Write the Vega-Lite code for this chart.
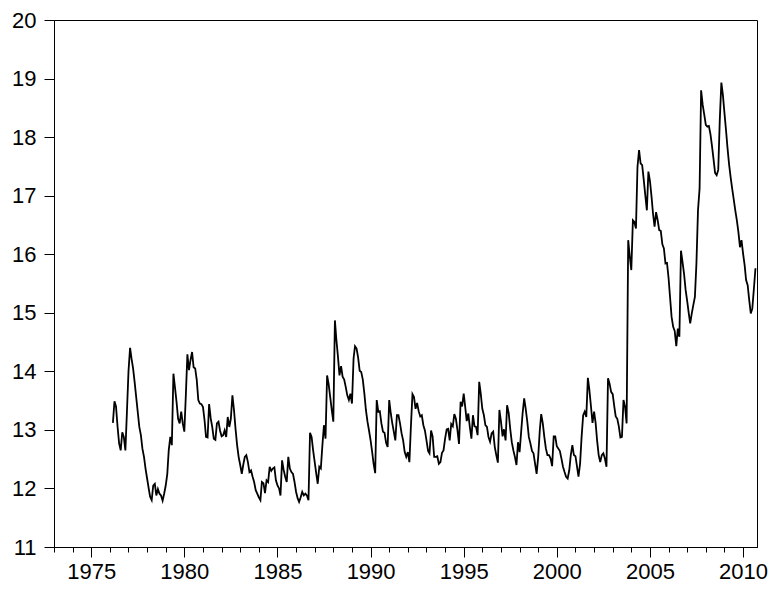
{
  "$schema": "https://vega.github.io/schema/vega-lite/v6.json",
  "width": 703,
  "height": 527,
  "autosize": "none",
  "padding": {"left": 54, "top": 20, "right": 16, "bottom": 44},
  "background": "white",
  "view": {"stroke": "#000", "strokeWidth": 1},
  "data": {
    "values": [
      {"d": "1976-03", "v": 13.12}, {"d": "1976-04", "v": 13.49}, {"d": "1976-05", "v": 13.40}, {"d": "1976-06", "v": 13.05},
      {"d": "1976-07", "v": 12.77}, {"d": "1976-08", "v": 12.65}, {"d": "1976-09", "v": 12.96}, {"d": "1976-10", "v": 12.88},
      {"d": "1976-11", "v": 12.65}, {"d": "1976-12", "v": 13.30}, {"d": "1977-01", "v": 14.00}, {"d": "1977-02", "v": 14.40},
      {"d": "1977-03", "v": 14.22}, {"d": "1977-04", "v": 14.05}, {"d": "1977-05", "v": 13.82}, {"d": "1977-06", "v": 13.56},
      {"d": "1977-07", "v": 13.31}, {"d": "1977-08", "v": 13.05}, {"d": "1977-09", "v": 12.91}, {"d": "1977-10", "v": 12.68},
      {"d": "1977-11", "v": 12.54}, {"d": "1977-12", "v": 12.34}, {"d": "1978-01", "v": 12.17}, {"d": "1978-02", "v": 12.00},
      {"d": "1978-03", "v": 11.86}, {"d": "1978-04", "v": 11.80}, {"d": "1978-05", "v": 12.05}, {"d": "1978-06", "v": 12.08},
      {"d": "1978-07", "v": 11.88}, {"d": "1978-08", "v": 11.99}, {"d": "1978-09", "v": 11.91}, {"d": "1978-10", "v": 11.88},
      {"d": "1978-11", "v": 11.79}, {"d": "1978-12", "v": 11.91}, {"d": "1979-01", "v": 12.05}, {"d": "1979-02", "v": 12.25},
      {"d": "1979-03", "v": 12.65}, {"d": "1979-04", "v": 12.88}, {"d": "1979-05", "v": 12.74}, {"d": "1979-06", "v": 13.96},
      {"d": "1979-07", "v": 13.73}, {"d": "1979-08", "v": 13.48}, {"d": "1979-09", "v": 13.19}, {"d": "1979-10", "v": 13.11},
      {"d": "1979-11", "v": 13.31}, {"d": "1979-12", "v": 13.11}, {"d": "1980-01", "v": 12.97}, {"d": "1980-02", "v": 13.62},
      {"d": "1980-03", "v": 14.29}, {"d": "1980-04", "v": 14.02}, {"d": "1980-05", "v": 14.19}, {"d": "1980-06", "v": 14.33},
      {"d": "1980-07", "v": 14.07}, {"d": "1980-08", "v": 14.05}, {"d": "1980-09", "v": 13.85}, {"d": "1980-10", "v": 13.51},
      {"d": "1980-11", "v": 13.45}, {"d": "1980-12", "v": 13.44}, {"d": "1981-01", "v": 13.39}, {"d": "1981-02", "v": 13.16},
      {"d": "1981-03", "v": 12.88}, {"d": "1981-04", "v": 12.87}, {"d": "1981-05", "v": 13.44}, {"d": "1981-06", "v": 13.20},
      {"d": "1981-07", "v": 13.05}, {"d": "1981-08", "v": 12.85}, {"d": "1981-09", "v": 12.83}, {"d": "1981-10", "v": 13.11},
      {"d": "1981-11", "v": 13.14}, {"d": "1981-12", "v": 12.99}, {"d": "1982-01", "v": 12.89}, {"d": "1982-02", "v": 12.91},
      {"d": "1982-03", "v": 12.99}, {"d": "1982-04", "v": 12.88}, {"d": "1982-05", "v": 13.22}, {"d": "1982-06", "v": 13.05},
      {"d": "1982-07", "v": 13.19}, {"d": "1982-08", "v": 13.59}, {"d": "1982-09", "v": 13.34}, {"d": "1982-10", "v": 13.02},
      {"d": "1982-11", "v": 12.74}, {"d": "1982-12", "v": 12.54}, {"d": "1983-01", "v": 12.40}, {"d": "1983-02", "v": 12.25},
      {"d": "1983-03", "v": 12.40}, {"d": "1983-04", "v": 12.54}, {"d": "1983-05", "v": 12.57}, {"d": "1983-06", "v": 12.45},
      {"d": "1983-07", "v": 12.28}, {"d": "1983-08", "v": 12.31}, {"d": "1983-09", "v": 12.20}, {"d": "1983-10", "v": 12.11},
      {"d": "1983-11", "v": 11.97}, {"d": "1983-12", "v": 11.91}, {"d": "1984-01", "v": 11.85}, {"d": "1984-02", "v": 11.80},
      {"d": "1984-03", "v": 12.11}, {"d": "1984-04", "v": 12.09}, {"d": "1984-05", "v": 11.92}, {"d": "1984-06", "v": 12.14},
      {"d": "1984-07", "v": 12.11}, {"d": "1984-08", "v": 12.37}, {"d": "1984-09", "v": 12.30}, {"d": "1984-10", "v": 12.34},
      {"d": "1984-11", "v": 12.36}, {"d": "1984-12", "v": 12.14}, {"d": "1985-01", "v": 12.05}, {"d": "1985-02", "v": 12.00},
      {"d": "1985-03", "v": 11.88}, {"d": "1985-04", "v": 12.48}, {"d": "1985-05", "v": 12.32}, {"d": "1985-06", "v": 12.20},
      {"d": "1985-07", "v": 12.11}, {"d": "1985-08", "v": 12.54}, {"d": "1985-09", "v": 12.34}, {"d": "1985-10", "v": 12.28},
      {"d": "1985-11", "v": 12.25}, {"d": "1985-12", "v": 12.11}, {"d": "1986-01", "v": 11.94}, {"d": "1986-02", "v": 11.83},
      {"d": "1986-03", "v": 11.77}, {"d": "1986-04", "v": 11.85}, {"d": "1986-05", "v": 11.94}, {"d": "1986-06", "v": 11.88},
      {"d": "1986-07", "v": 11.91}, {"d": "1986-08", "v": 11.88}, {"d": "1986-09", "v": 11.80}, {"d": "1986-10", "v": 12.95},
      {"d": "1986-11", "v": 12.88}, {"d": "1986-12", "v": 12.65}, {"d": "1987-01", "v": 12.45}, {"d": "1987-02", "v": 12.25},
      {"d": "1987-03", "v": 12.08}, {"d": "1987-04", "v": 12.37}, {"d": "1987-05", "v": 12.34}, {"d": "1987-06", "v": 12.74},
      {"d": "1987-07", "v": 13.08}, {"d": "1987-08", "v": 12.85}, {"d": "1987-09", "v": 13.93}, {"d": "1987-10", "v": 13.78},
      {"d": "1987-11", "v": 13.56}, {"d": "1987-12", "v": 13.34}, {"d": "1988-01", "v": 13.14}, {"d": "1988-02", "v": 14.87},
      {"d": "1988-03", "v": 14.54}, {"d": "1988-04", "v": 14.25}, {"d": "1988-05", "v": 13.93}, {"d": "1988-06", "v": 14.09},
      {"d": "1988-07", "v": 13.91}, {"d": "1988-08", "v": 13.86}, {"d": "1988-09", "v": 13.73}, {"d": "1988-10", "v": 13.59},
      {"d": "1988-11", "v": 13.51}, {"d": "1988-12", "v": 13.62}, {"d": "1989-01", "v": 13.45}, {"d": "1989-02", "v": 14.22},
      {"d": "1989-03", "v": 14.43}, {"d": "1989-04", "v": 14.39}, {"d": "1989-05", "v": 14.24}, {"d": "1989-06", "v": 14.01},
      {"d": "1989-07", "v": 13.99}, {"d": "1989-08", "v": 13.86}, {"d": "1989-09", "v": 13.62}, {"d": "1989-10", "v": 13.34},
      {"d": "1989-11", "v": 13.14}, {"d": "1989-12", "v": 12.99}, {"d": "1990-01", "v": 12.82}, {"d": "1990-02", "v": 12.62},
      {"d": "1990-03", "v": 12.42}, {"d": "1990-04", "v": 12.26}, {"d": "1990-05", "v": 13.51}, {"d": "1990-06", "v": 13.31},
      {"d": "1990-07", "v": 13.32}, {"d": "1990-08", "v": 13.11}, {"d": "1990-09", "v": 12.97}, {"d": "1990-10", "v": 12.95},
      {"d": "1990-11", "v": 12.78}, {"d": "1990-12", "v": 12.71}, {"d": "1991-01", "v": 13.51}, {"d": "1991-02", "v": 13.28},
      {"d": "1991-03", "v": 13.12}, {"d": "1991-04", "v": 12.97}, {"d": "1991-05", "v": 12.82}, {"d": "1991-06", "v": 13.25},
      {"d": "1991-07", "v": 13.25}, {"d": "1991-08", "v": 13.11}, {"d": "1991-09", "v": 12.94}, {"d": "1991-10", "v": 12.82},
      {"d": "1991-11", "v": 12.62}, {"d": "1991-12", "v": 12.54}, {"d": "1992-01", "v": 12.62}, {"d": "1992-02", "v": 12.45},
      {"d": "1992-03", "v": 13.05}, {"d": "1992-04", "v": 13.61}, {"d": "1992-05", "v": 13.56}, {"d": "1992-06", "v": 13.36},
      {"d": "1992-07", "v": 13.46}, {"d": "1992-08", "v": 13.32}, {"d": "1992-09", "v": 13.23}, {"d": "1992-10", "v": 13.25},
      {"d": "1992-11", "v": 13.08}, {"d": "1992-12", "v": 12.99}, {"d": "1993-01", "v": 12.82}, {"d": "1993-02", "v": 12.64},
      {"d": "1993-03", "v": 12.60}, {"d": "1993-04", "v": 12.99}, {"d": "1993-05", "v": 12.89}, {"d": "1993-06", "v": 12.54},
      {"d": "1993-07", "v": 12.54}, {"d": "1993-08", "v": 12.55}, {"d": "1993-09", "v": 12.42}, {"d": "1993-10", "v": 12.45},
      {"d": "1993-11", "v": 12.61}, {"d": "1993-12", "v": 12.65}, {"d": "1994-01", "v": 12.85}, {"d": "1994-02", "v": 13.01},
      {"d": "1994-03", "v": 13.02}, {"d": "1994-04", "v": 12.82}, {"d": "1994-05", "v": 13.10}, {"d": "1994-06", "v": 13.06},
      {"d": "1994-07", "v": 13.27}, {"d": "1994-08", "v": 13.19}, {"d": "1994-09", "v": 12.99}, {"d": "1994-10", "v": 12.76},
      {"d": "1994-11", "v": 13.48}, {"d": "1994-12", "v": 13.40}, {"d": "1995-01", "v": 13.62}, {"d": "1995-02", "v": 13.38},
      {"d": "1995-03", "v": 13.15}, {"d": "1995-04", "v": 13.28}, {"d": "1995-05", "v": 13.05}, {"d": "1995-06", "v": 12.85},
      {"d": "1995-07", "v": 13.25}, {"d": "1995-08", "v": 13.06}, {"d": "1995-09", "v": 13.05}, {"d": "1995-10", "v": 12.91},
      {"d": "1995-11", "v": 13.82}, {"d": "1995-12", "v": 13.62}, {"d": "1996-01", "v": 13.36}, {"d": "1996-02", "v": 13.25},
      {"d": "1996-03", "v": 13.08}, {"d": "1996-04", "v": 13.05}, {"d": "1996-05", "v": 12.88}, {"d": "1996-06", "v": 12.80},
      {"d": "1996-07", "v": 12.94}, {"d": "1996-08", "v": 12.97}, {"d": "1996-09", "v": 12.71}, {"d": "1996-10", "v": 12.57},
      {"d": "1996-11", "v": 12.44}, {"d": "1996-12", "v": 13.34}, {"d": "1997-01", "v": 13.14}, {"d": "1997-02", "v": 12.89},
      {"d": "1997-03", "v": 13.01}, {"d": "1997-04", "v": 12.82}, {"d": "1997-05", "v": 13.42}, {"d": "1997-06", "v": 13.29},
      {"d": "1997-07", "v": 13.02}, {"d": "1997-08", "v": 12.79}, {"d": "1997-09", "v": 12.65}, {"d": "1997-10", "v": 12.54},
      {"d": "1997-11", "v": 12.40}, {"d": "1997-12", "v": 12.79}, {"d": "1998-01", "v": 12.62}, {"d": "1998-02", "v": 12.97},
      {"d": "1998-03", "v": 13.28}, {"d": "1998-04", "v": 13.54}, {"d": "1998-05", "v": 13.36}, {"d": "1998-06", "v": 13.14},
      {"d": "1998-07", "v": 12.88}, {"d": "1998-08", "v": 12.77}, {"d": "1998-09", "v": 12.64}, {"d": "1998-10", "v": 12.60},
      {"d": "1998-11", "v": 12.42}, {"d": "1998-12", "v": 12.25}, {"d": "1999-01", "v": 12.54}, {"d": "1999-02", "v": 12.99},
      {"d": "1999-03", "v": 13.27}, {"d": "1999-04", "v": 13.11}, {"d": "1999-05", "v": 12.88}, {"d": "1999-06", "v": 12.68},
      {"d": "1999-07", "v": 12.57}, {"d": "1999-08", "v": 12.57}, {"d": "1999-09", "v": 12.51}, {"d": "1999-10", "v": 12.38},
      {"d": "1999-11", "v": 12.89}, {"d": "1999-12", "v": 12.89}, {"d": "2000-01", "v": 12.72}, {"d": "2000-02", "v": 12.68},
      {"d": "2000-03", "v": 12.64}, {"d": "2000-04", "v": 12.51}, {"d": "2000-05", "v": 12.37}, {"d": "2000-06", "v": 12.28},
      {"d": "2000-07", "v": 12.20}, {"d": "2000-08", "v": 12.17}, {"d": "2000-09", "v": 12.31}, {"d": "2000-10", "v": 12.57},
      {"d": "2000-11", "v": 12.74}, {"d": "2000-12", "v": 12.57}, {"d": "2001-01", "v": 12.55}, {"d": "2001-02", "v": 12.37},
      {"d": "2001-03", "v": 12.20}, {"d": "2001-04", "v": 12.42}, {"d": "2001-05", "v": 12.88}, {"d": "2001-06", "v": 13.25},
      {"d": "2001-07", "v": 13.31}, {"d": "2001-08", "v": 13.22}, {"d": "2001-09", "v": 13.89}, {"d": "2001-10", "v": 13.68},
      {"d": "2001-11", "v": 13.40}, {"d": "2001-12", "v": 13.12}, {"d": "2002-01", "v": 13.31}, {"d": "2002-02", "v": 13.11},
      {"d": "2002-03", "v": 12.82}, {"d": "2002-04", "v": 12.57}, {"d": "2002-05", "v": 12.45}, {"d": "2002-06", "v": 12.57},
      {"d": "2002-07", "v": 12.60}, {"d": "2002-08", "v": 12.51}, {"d": "2002-09", "v": 12.37}, {"d": "2002-10", "v": 13.88},
      {"d": "2002-11", "v": 13.79}, {"d": "2002-12", "v": 13.65}, {"d": "2003-01", "v": 13.61}, {"d": "2003-02", "v": 13.40},
      {"d": "2003-03", "v": 13.23}, {"d": "2003-04", "v": 13.19}, {"d": "2003-05", "v": 13.06}, {"d": "2003-06", "v": 12.87},
      {"d": "2003-07", "v": 12.88}, {"d": "2003-08", "v": 13.51}, {"d": "2003-09", "v": 13.39}, {"d": "2003-10", "v": 13.11},
      {"d": "2003-11", "v": 16.24}, {"d": "2003-12", "v": 15.97}, {"d": "2004-01", "v": 15.73}, {"d": "2004-02", "v": 16.58},
      {"d": "2004-03", "v": 16.55}, {"d": "2004-04", "v": 16.44}, {"d": "2004-05", "v": 17.49}, {"d": "2004-06", "v": 17.78},
      {"d": "2004-07", "v": 17.55}, {"d": "2004-08", "v": 17.52}, {"d": "2004-09", "v": 17.27}, {"d": "2004-10", "v": 17.01},
      {"d": "2004-11", "v": 16.75}, {"d": "2004-12", "v": 17.41}, {"d": "2005-01", "v": 17.25}, {"d": "2005-02", "v": 16.98},
      {"d": "2005-03", "v": 16.70}, {"d": "2005-04", "v": 16.47}, {"d": "2005-05", "v": 16.72}, {"d": "2005-06", "v": 16.58},
      {"d": "2005-07", "v": 16.41}, {"d": "2005-08", "v": 16.40}, {"d": "2005-09", "v": 16.17}, {"d": "2005-10", "v": 16.10},
      {"d": "2005-11", "v": 15.84}, {"d": "2005-12", "v": 15.85}, {"d": "2006-01", "v": 15.59}, {"d": "2006-02", "v": 15.24},
      {"d": "2006-03", "v": 14.93}, {"d": "2006-04", "v": 14.76}, {"d": "2006-05", "v": 14.69}, {"d": "2006-06", "v": 14.43},
      {"d": "2006-07", "v": 14.73}, {"d": "2006-08", "v": 14.59}, {"d": "2006-09", "v": 16.06}, {"d": "2006-10", "v": 15.87},
      {"d": "2006-11", "v": 15.66}, {"d": "2006-12", "v": 15.39}, {"d": "2007-01", "v": 15.20}, {"d": "2007-02", "v": 14.99},
      {"d": "2007-03", "v": 14.82}, {"d": "2007-04", "v": 14.99}, {"d": "2007-05", "v": 15.13}, {"d": "2007-06", "v": 15.27},
      {"d": "2007-07", "v": 15.84}, {"d": "2007-08", "v": 16.75}, {"d": "2007-09", "v": 17.12}, {"d": "2007-10", "v": 18.80},
      {"d": "2007-11", "v": 18.55}, {"d": "2007-12", "v": 18.39}, {"d": "2008-01", "v": 18.21}, {"d": "2008-02", "v": 18.18},
      {"d": "2008-03", "v": 18.19}, {"d": "2008-04", "v": 18.05}, {"d": "2008-05", "v": 17.85}, {"d": "2008-06", "v": 17.62},
      {"d": "2008-07", "v": 17.39}, {"d": "2008-08", "v": 17.35}, {"d": "2008-09", "v": 17.44}, {"d": "2008-10", "v": 18.29},
      {"d": "2008-11", "v": 18.93}, {"d": "2008-12", "v": 18.72}, {"d": "2009-01", "v": 18.41}, {"d": "2009-02", "v": 18.11},
      {"d": "2009-03", "v": 17.82}, {"d": "2009-04", "v": 17.54}, {"d": "2009-05", "v": 17.32}, {"d": "2009-06", "v": 17.12},
      {"d": "2009-07", "v": 16.94}, {"d": "2009-08", "v": 16.75}, {"d": "2009-09", "v": 16.58}, {"d": "2009-10", "v": 16.38},
      {"d": "2009-11", "v": 16.12}, {"d": "2009-12", "v": 16.24}, {"d": "2010-01", "v": 16.01}, {"d": "2010-02", "v": 15.81},
      {"d": "2010-03", "v": 15.56}, {"d": "2010-04", "v": 15.47}, {"d": "2010-05", "v": 15.22}, {"d": "2010-06", "v": 14.99},
      {"d": "2010-07", "v": 15.07}, {"d": "2010-08", "v": 15.41}, {"d": "2010-09", "v": 15.76}
    ]
  },
  "layer": [
    {
      "mark": {"type": "line", "color": "#000", "strokeWidth": 1.8},
      "encoding": {
        "x": {
          "field": "d",
          "type": "temporal",
          "scale": {
            "type": "utc",
            "domain": [{"year": 1973, "utc": true}, {"year": 2010, "month": 10, "utc": true}]
          },
          "axis": {
            "orient": "bottom",
            "title": null,
            "grid": false,
            "values": [
              {"year": 1975, "utc": true}, {"year": 1980, "utc": true}, {"year": 1985, "utc": true},
              {"year": 1990, "utc": true}, {"year": 1995, "utc": true}, {"year": 2000, "utc": true},
              {"year": 2005, "utc": true}, {"year": 2010, "utc": true}
            ],
            "format": "%Y",
            "tickSize": 10,
            "tickColor": "#000",
            "domainColor": "#000",
            "labelFont": "Liberation Sans",
            "labelFontSize": 22,
            "labelColor": "#000",
            "labelPadding": 4,
            "labelFlush": false,
            "labelOverlap": false
          }
        },
        "y": {
          "field": "v",
          "type": "quantitative",
          "scale": {"domain": [11, 20], "nice": false, "zero": false},
          "axis": {
            "title": null,
            "grid": false,
            "values": [11, 12, 13, 14, 15, 16, 17, 18, 19, 20],
            "tickSize": 10,
            "tickColor": "#000",
            "domainColor": "#000",
            "labelFont": "Liberation Sans",
            "labelFontSize": 22,
            "labelColor": "#000",
            "labelPadding": 8,
            "labelFlush": false,
            "labelOverlap": false
          }
        }
      }
    },
    {
      "mark": {"type": "line", "opacity": 0},
      "encoding": {
        "x": {
          "field": "d",
          "type": "temporal",
          "axis": {
            "orient": "bottom",
            "title": null,
            "grid": false,
            "labels": false,
            "values": [
              {"year": 1973, "utc": true}, {"year": 1974, "utc": true}, {"year": 1975, "utc": true}, {"year": 1976, "utc": true},
              {"year": 1977, "utc": true}, {"year": 1978, "utc": true}, {"year": 1979, "utc": true}, {"year": 1980, "utc": true},
              {"year": 1981, "utc": true}, {"year": 1982, "utc": true}, {"year": 1983, "utc": true}, {"year": 1984, "utc": true},
              {"year": 1985, "utc": true}, {"year": 1986, "utc": true}, {"year": 1987, "utc": true}, {"year": 1988, "utc": true},
              {"year": 1989, "utc": true}, {"year": 1990, "utc": true}, {"year": 1991, "utc": true}, {"year": 1992, "utc": true},
              {"year": 1993, "utc": true}, {"year": 1994, "utc": true}, {"year": 1995, "utc": true}, {"year": 1996, "utc": true},
              {"year": 1997, "utc": true}, {"year": 1998, "utc": true}, {"year": 1999, "utc": true}, {"year": 2000, "utc": true},
              {"year": 2001, "utc": true}, {"year": 2002, "utc": true}, {"year": 2003, "utc": true}, {"year": 2004, "utc": true},
              {"year": 2005, "utc": true}, {"year": 2006, "utc": true}, {"year": 2007, "utc": true}, {"year": 2008, "utc": true},
              {"year": 2009, "utc": true}, {"year": 2010, "utc": true}
            ],
            "tickSize": 5,
            "tickColor": "#000",
            "domainColor": "#000"
          }
        },
        "y": {"field": "v", "type": "quantitative", "axis": null}
      }
    }
  ],
  "resolve": {"axis": {"x": "independent", "y": "independent"}}
}
